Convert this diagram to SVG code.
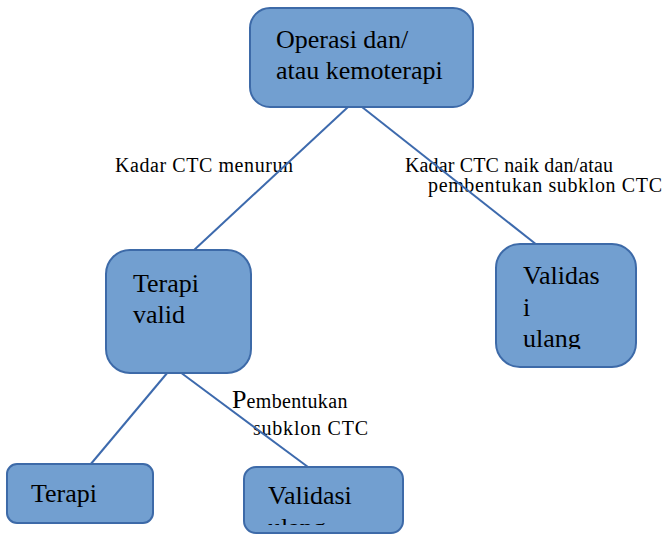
<svg xmlns="http://www.w3.org/2000/svg" width="665" height="535" viewBox="0 0 665 535">
<style>
.box{fill:#729fd0;stroke:#3d6aa8;stroke-width:2}
text{font-family:'Liberation Serif','DejaVu Serif',serif;fill:#000}
.t{font-size:26px}
.l{font-size:20px}
.c{stroke:#3d6aad;stroke-width:2;fill:none}
</style>
<defs>
<clipPath id="clipR"><rect x="496" y="244" width="141" height="105"/></clipPath>
<clipPath id="clipB"><rect x="244" y="467" width="160" height="58"/></clipPath>
</defs>
<rect width="665" height="535" fill="#fff"/>
<g id="labels">
<text class="l" x="115" y="172" textLength="178" lengthAdjust="spacing">Kadar CTC menurun</text>
<text class="l" x="405" y="172" textLength="208" lengthAdjust="spacing">Kadar CTC naik dan/atau</text>
<text class="l" x="428" y="192" textLength="234" lengthAdjust="spacing">pembentukan subklon CTC</text>
<text class="l" x="232" y="408"><tspan font-size="26px">P</tspan><tspan textLength="101" lengthAdjust="spacing">embentukan</tspan></text>
<text class="l" x="253" y="435" textLength="115" lengthAdjust="spacing">subklon CTC</text>
</g>
<g id="connectors">
<line class="c" x1="348" y1="107" x2="193" y2="251"/>
<line class="c" x1="362" y1="107" x2="537" y2="245"/>
<line class="c" x1="168" y1="372" x2="90" y2="465"/>
<line class="c" x1="180" y1="372" x2="308" y2="467"/>
</g>
<g id="n1">
<rect class="box" x="250" y="8" width="223" height="99" rx="20"/>
<text class="t" x="276" y="48">Operasi dan/</text>
<text class="t" x="276" y="79">atau kemoterapi</text>
</g>
<g id="n2">
<rect class="box" x="106" y="250" width="145" height="123" rx="24"/>
<text class="t" x="133" y="292">Terapi</text>
<text class="t" x="133" y="323">valid</text>
</g>
<g id="n3">
<rect class="box" x="496" y="244" width="140" height="123" rx="24"/>
<g clip-path="url(#clipR)">
<text class="t" x="523" y="284">Validas</text>
<text class="t" x="523" y="316">i</text>
<text class="t" x="523" y="347">ulang</text>
</g>
</g>
<g id="n4">
<rect class="box" x="7" y="464" width="146" height="59" rx="10"/>
<text class="t" x="31" y="502">Terapi</text>
</g>
<g id="n5">
<rect class="box" x="244" y="467" width="159" height="66" rx="12"/>
<g clip-path="url(#clipB)">
<text class="t" x="268" y="504">Validasi</text>
<text class="t" x="268" y="536">ulang</text>
</g>
</g>
</svg>
